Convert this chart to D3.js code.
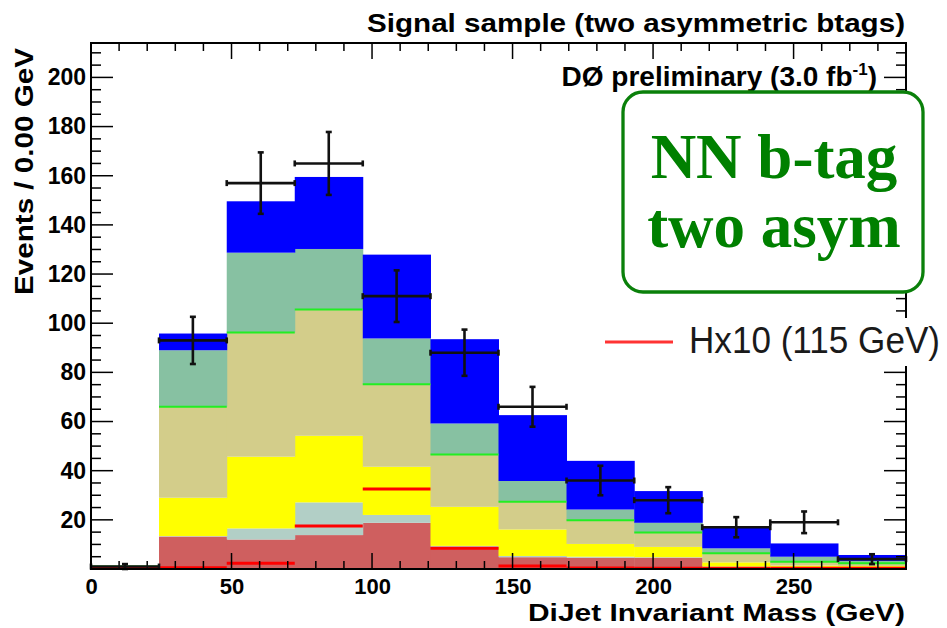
<!DOCTYPE html>
<html>
<head>
<meta charset="utf-8">
<script src="https://cdn.jsdelivr.net/npm/d3@7"></script>
<style>
  body { margin: 0; background: #fff; }
  svg { display: block; font-family: "Liberation Sans", Arial, sans-serif; }
</style>
</head>
<body>
<div id="chart"></div>
<script>
// bin edges of the dijet mass histogram (GeV)
const binEdges = [0, 24.2, 48.3, 72.5, 96.7, 120.8, 145, 169.2, 193.3, 217.5, 241.7, 265.8, 290];
// stacked backgrounds, bottom to top (events per bin)
const layerKeys = ["red", "gray", "yellow", "khaki", "teal", "blue"];
const redFill  = [0.3, 13.2, 12.0, 13.8, 18.8, 9.0, 4.8, 4.6, 4.6, 0.8, 0.4, 0.3];
const grayFill = [0.0, 0.2, 4.5, 13.3, 3.2, 0.4, 0.5, 0.4, 0.2, 0.2, 0.2, 0.1];
const yellowFill = [0.5, 15.6, 29.2, 27.1, 19.6, 15.9, 10.8, 5.2, 4.2, 1.7, 0.8, 0.8];
const khakiFill = [0.2, 37.0, 50.5, 51.4, 33.6, 21.3, 11.3, 9.6, 5.9, 3.7, 1.6, 1.1];
const tealFill = [0.0, 23.0, 32.5, 24.6, 18.6, 12.6, 8.4, 4.4, 3.9, 2.0, 2.0, 1.0];
const blueFill = [0.0, 6.8, 20.9, 29.3, 34.1, 34.3, 26.8, 19.8, 12.9, 8.4, 5.4, 2.4];
// signal H x10 (115 GeV)
const signal = [0.4, 0.5, 2.3, 17.5, 32.5, 8.4, 1.2, 0.4, 0.3, 0.3, 0.3, 0.3];
// data
const dataVals = [1, 93, 157, 165, 111, 88, 66, 36, 28, 17, 19, 4];
const dataErr = [1, 9.6, 12.5, 12.8, 10.5, 9.4, 8.1, 6.0, 5.3, 4.1, 4.4, 2.0];
// axis ticks
const xMajor = [0, 50, 100, 150, 200, 250];
const xMinor = d3.range(0, 291, 10);
const yMajor = [20, 40, 60, 80, 100, 120, 140, 160, 180, 200];
const yMinor = d3.range(0, 214, 5);

const colors = {
  red: "#cf5f5f", gray: "#b2cfc6", yellow: "#ffff00",
  khaki: "#d3cd8a", teal: "#87c1a2", blue: "#0000ff"
};

const W = 947, H = 628;
const L = 91, R = 906, T = 43, B = 569;

const svg = d3.select("#chart").append("svg")
  .attr("width", W).attr("height", H);

const x = d3.scaleLinear().domain([0, 290]).range([L, R]);
const y = d3.scaleLinear().domain([0, 214]).range([B, T]);

// build rows for the stack
const rows = binEdges.slice(0, -1).map((lo, i) => ({
  lo: lo, hi: binEdges[i + 1],
  red: redFill[i], gray: grayFill[i], yellow: yellowFill[i],
  khaki: khakiFill[i], teal: tealFill[i], blue: blueFill[i]
}));
const stacked = d3.stack().keys(layerKeys)(rows);

//stacked fills
stacked.forEach(layer => {
  svg.append("g").selectAll("rect").data(layer).enter().append("rect")
    .attr("x", d => x(d.data.lo))
    .attr("width", d => x(d.data.hi) - x(d.data.lo) + 0.5)
    .attr("y", d => y(d[1]))
    .attr("height", d => Math.max(0, y(d[0]) - y(d[1])))
    .attr("fill", colors[layer.key]);
});

// green line on top of khaki
const khakiLayer = stacked[3];
svg.append("g").selectAll("line").data(khakiLayer).enter().append("line")
  .attr("x1", d => x(d.data.lo)).attr("x2", d => x(d.data.hi))
  .attr("y1", d => y(d[1])).attr("y2", d => y(d[1]))
  .attr("stroke", "#22ee22").attr("stroke-width", 2);

// signal lines
svg.append("g").selectAll("line").data(signal).enter().append("line")
  .attr("x1", (d, i) => x(binEdges[i])).attr("x2", (d, i) => x(binEdges[i + 1]))
  .attr("y1", d => y(d)).attr("y2", d => y(d))
  .attr("stroke", "#ff0000").attr("stroke-width", 3);

// axes ticks (inside the frame)
const tk = svg.append("g").attr("stroke", "#000").attr("stroke-width", 1.5);
xMinor.forEach(v => {
  const len = xMajor.includes(v) ? 16 : 8;
  tk.append("line").attr("x1", x(v)).attr("x2", x(v)).attr("y1", B).attr("y2", B - len);
  tk.append("line").attr("x1", x(v)).attr("x2", x(v)).attr("y1", T).attr("y2", T + len);
});
yMinor.forEach(v => {
  const len = (v % 20 === 0) ? 22 : 10;
  tk.append("line").attr("x1", L).attr("x2", L + len).attr("y1", y(v)).attr("y2", y(v));
  tk.append("line").attr("x1", R).attr("x2", R - len).attr("y1", y(v)).attr("y2", y(v));
});

// tick labels through d3 axes
const xAxis = d3.axisBottom(x).tickValues(xMajor).tickSize(0).tickPadding(9)
  .tickFormat(d3.format("d"));
svg.append("g").attr("transform", `translate(0,${B})`).call(xAxis)
  .call(g => g.select(".domain").remove())
  .selectAll("text").attr("font-size", 22).attr("font-weight", "bold")
  .attr("font-family", "Liberation Sans, Arial, sans-serif").attr("fill", "#000");

const yAxis = d3.axisLeft(y).tickValues(yMajor).tickSize(0).tickPadding(5)
  .tickFormat(d3.format("d"));
svg.append("g").attr("transform", `translate(${L},0)`).call(yAxis)
  .call(g => g.select(".domain").remove())
  .selectAll("text").attr("font-size", 23).attr("font-weight", "bold")
  .attr("font-family", "Liberation Sans, Arial, sans-serif").attr("fill", "#000");

// data points with error bars
const pts = svg.append("g").attr("stroke", "#111").attr("stroke-width", 2.6);
dataVals.forEach((v, i) => {
  const x0 = x(binEdges[i]), x1 = x(binEdges[i + 1]), xc = (x0 + x1) / 2;
  const yc = y(v), yt = y(v + dataErr[i]), yb = y(Math.max(0, v - dataErr[i]));
  pts.append("line").attr("x1", x0).attr("x2", x1).attr("y1", yc).attr("y2", yc);
  pts.append("line").attr("x1", xc).attr("x2", xc).attr("y1", yt).attr("y2", yb);
  pts.append("line").attr("x1", x0).attr("x2", x0).attr("y1", yc - 3).attr("y2", yc + 3);
  pts.append("line").attr("x1", x1).attr("x2", x1).attr("y1", yc - 3).attr("y2", yc + 3);
  pts.append("line").attr("x1", xc - 3).attr("x2", xc + 3).attr("y1", yt).attr("y2", yt);
  pts.append("line").attr("x1", xc - 3).attr("x2", xc + 3).attr("y1", yb).attr("y2", yb);
});

// frame
svg.append("rect").attr("x", L).attr("y", T).attr("width", R - L).attr("height", B - T)
  .attr("fill", "none").attr("stroke", "#000").attr("stroke-width", 2);

// titles
svg.append("text").attr("x", 905).attr("y", 32).attr("text-anchor", "end")
  .attr("font-size", 26).attr("font-weight", "bold")
  .attr("textLength", 538).attr("lengthAdjust", "spacingAndGlyphs")
  .text("Signal sample (two asymmetric btags)");

const d0 = svg.append("text").attr("x", 877).attr("y", 86).attr("text-anchor", "end")
  .attr("font-size", 28).attr("font-weight", "bold");
d0.append("tspan").text("DØ preliminary (3.0 fb");
d0.append("tspan").attr("font-size", 17).attr("dy", -11).text("-1");
d0.append("tspan").attr("dy", 11).text(")");

svg.append("text").attr("x", 905).attr("y", 621).attr("text-anchor", "end")
  .attr("font-size", 24).attr("font-weight", "bold")
  .attr("textLength", 377).attr("lengthAdjust", "spacingAndGlyphs")
  .text("DiJet Invariant Mass (GeV)");

svg.append("text").attr("transform", "translate(33,48) rotate(-90)")
  .attr("text-anchor", "end")
  .attr("font-size", 25).attr("font-weight", "bold")
  .attr("textLength", 247).attr("lengthAdjust", "spacingAndGlyphs")
  .text("Events / 0.00 GeV");

// legend
svg.append("rect").attr("x", 596).attr("y", 318).attr("width", 351).attr("height", 48)
  .attr("fill", "#fff");
svg.append("line").attr("x1", 605).attr("x2", 673).attr("y1", 342).attr("y2", 342)
  .attr("stroke", "#ff3333").attr("stroke-width", 3);
svg.append("text").attr("x", 689).attr("y", 353)
  .attr("font-size", 36).attr("fill", "#1a1a1a")
  .attr("textLength", 251).attr("lengthAdjust", "spacingAndGlyphs")
  .text("Hx10 (115 GeV)");

// NN b-tag box
svg.append("rect").attr("x", 623).attr("y", 92).attr("width", 300).attr("height", 200)
  .attr("rx", 20).attr("ry", 20)
  .attr("fill", "#fff").attr("stroke", "#0a800a").attr("stroke-width", 3.3);
const boxText = svg.append("text").attr("text-anchor", "middle")
  .attr("font-family", "Liberation Serif, Times New Roman, serif")
  .attr("font-weight", "bold").attr("font-size", 63).attr("fill", "#008000");
boxText.append("tspan").attr("x", 774).attr("y", 178).text("NN b-tag");
boxText.append("tspan").attr("x", 774).attr("y", 247).text("two asym");
</script>
</body>
</html>
